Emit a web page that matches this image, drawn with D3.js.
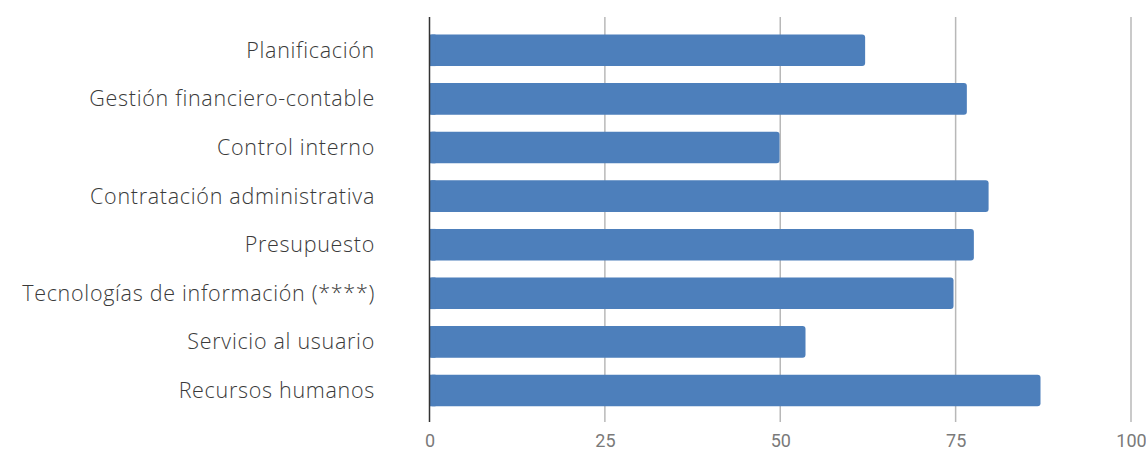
<!DOCTYPE html>
<html>
<head>
<meta charset="utf-8">
<script src="https://cdn.jsdelivr.net/npm/d3@7"></script>
<style>
  body { margin: 0; background: #fff; }
  .cat { font-family: "Open Sans", "Noto Sans", sans-serif; font-weight: 300; font-size: 21.5px; letter-spacing: 0.7px; fill: #3a3a3a; }
  .tick text { font-family: Roboto, sans-serif; font-size: 18px; fill: #7a7a7a; }
</style>
</head>
<body>
<script>
  var categories = ["Planificación", "Gestión financiero-contable", "Control interno",
    "Contratación administrativa", "Presupuesto", "Tecnologías de información (****)",
    "Servicio al usuario", "Recursos humanos"];
  var values = [62.1, 76.6, 49.9, 79.7, 77.6, 74.7, 53.6, 87.1];
  var ticks = [0, 25, 50, 75, 100];

  var width = 1146, height = 452;
  var svg = d3.select("body").append("svg")
    .attr("width", width).attr("height", height);

  var x = d3.scaleLinear().domain([0, 100]).range([429.5, 1131]);
  var y = d3.scaleBand().domain(categories).range([26, 414.8]).paddingInner(0.35).paddingOuter(0.175);

  // gridlines
  svg.append("g").selectAll("line")
    .data(ticks.slice(1))
    .enter().append("line")
    .attr("x1", function(d) { return x(d); })
    .attr("x2", function(d) { return x(d); })
    .attr("y1", 17).attr("y2", 422)
    .attr("stroke", "#b8b8b8").attr("stroke-width", 1.5);

  // bars
  svg.append("g").selectAll("rect")
    .data(categories)
    .enter().append("rect")
    .attr("x", x(0))
    .attr("y", function(d) { return y(d); })
    .attr("width", function(d, i) { return x(values[i]) - x(0); })
    .attr("height", y.bandwidth())
    .attr("rx", 3)
    .attr("fill", "#4d7fbb");

  // square off the left end at the axis
  svg.append("g").selectAll("rect")
    .data(categories)
    .enter().append("rect")
    .attr("x", x(0))
    .attr("y", function(d) { return y(d); })
    .attr("width", 6)
    .attr("height", y.bandwidth())
    .attr("fill", "#4d7fbb");

  // zero axis line
  svg.append("line")
    .attr("x1", x(0)).attr("x2", x(0))
    .attr("y1", 17).attr("y2", 422)
    .attr("stroke", "#333").attr("stroke-width", 1.5);

  // category labels
  svg.append("g").selectAll("text")
    .data(categories)
    .enter().append("text")
    .attr("class", "cat")
    .attr("x", 375)
    .attr("y", function(d) { return y(d) + y.bandwidth() / 2; })
    .attr("dy", "0.35em")
    .attr("text-anchor", "end")
    .text(function(d) { return d; });

  // x axis tick labels
  var xAxis = d3.axisBottom(x).tickValues(ticks).tickSize(0).tickPadding(0);
  var gx = svg.append("g").attr("transform", "translate(0,434)").call(xAxis);
  gx.select(".domain").remove();
  gx.selectAll(".tick text").attr("dy", "0.71em");
</script>
</body>
</html>
